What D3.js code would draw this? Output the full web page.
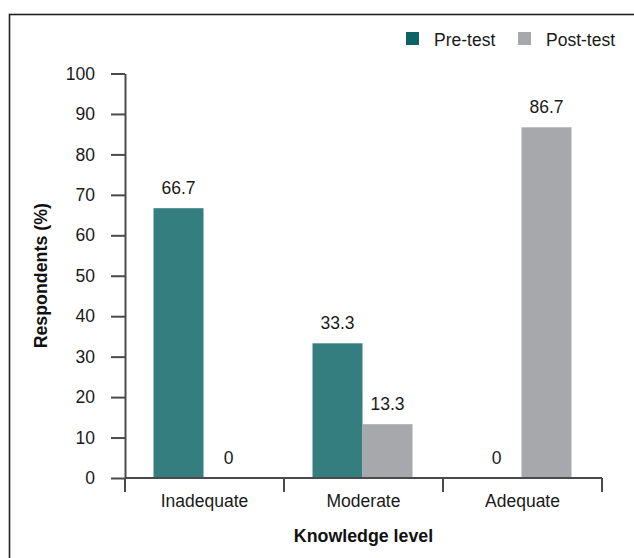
<!DOCTYPE html>
<html>
<head>
<meta charset="utf-8">
<script src="https://cdn.jsdelivr.net/npm/d3@7"></script>
<style>
  html, body { margin: 0; padding: 0; background: #fff; }
  svg { display: block; font-family: "Liberation Sans", Arial, sans-serif; }
</style>
</head>
<body>
<svg id="chart" width="634" height="558"></svg>
<script>
// Knowledge level of respondents before and after the intervention
const categories = ["Inadequate", "Moderate", "Adequate"];
const seriesNames = ["Pre-test", "Post-test"];
const preTest = [66.7, 33.3, 0];
const postTest = [0, 13.3, 86.7];
const yTicks = [0, 10, 20, 30, 40, 50, 60, 70, 80, 90, 100];

const barColors = ["#357e80", "#a7a8ac"];
const legendColors = ["#0d6266", "#a7a8ac"];
const axisColor = "#4a4a4a";
const fontSize = 17.5;
const titleSize = 17.8;

const svg = d3.select("#chart");

// outer frame (only the top and left edges fall inside the view)
svg.append("rect")
  .attr("x", 9.5).attr("y", 14.5)
  .attr("width", 700).attr("height", 700)
  .attr("fill", "none").attr("stroke", "#222").attr("stroke-width", 1.6);

const plotLeft = 125, plotRight = 602, plotTop = 73.5, plotBottom = 478;

const x0 = d3.scaleBand().domain(categories).range([plotLeft, plotRight]).padding(0);
const x1 = d3.scaleBand().domain(seriesNames)
  .range([x0.bandwidth() / 2 - 51, x0.bandwidth() / 2 + 49]).padding(0);
const y = d3.scaleLinear().domain([0, 100]).range([plotBottom, plotTop]);

const rows = categories.map((c, i) => ({
  category: c,
  values: [
    { series: seriesNames[0], value: preTest[i], color: barColors[0] },
    { series: seriesNames[1], value: postTest[i], color: barColors[1] }
  ]
}));

// bars
const groups = svg.append("g").selectAll("g")
  .data(rows).join("g")
  .attr("transform", d => `translate(${x0(d.category)},0)`);

groups.selectAll("rect")
  .data(d => d.values).join("rect")
  .attr("x", d => x1(d.series))
  .attr("y", d => y(d.value))
  .attr("width", x1.bandwidth())
  .attr("height", d => y(0) - y(d.value))
  .attr("fill", d => d.color);

// value labels
groups.selectAll("text")
  .data(d => d.values).join("text")
  .attr("x", d => x1(d.series) + x1.bandwidth() / 2)
  .attr("y", d => y(d.value) - 14)
  .attr("text-anchor", "middle")
  .attr("font-size", fontSize)
  .attr("fill", "#1a1a1a")
  .text(d => d.value);

// y axis
const yAxis = d3.axisLeft(y).tickValues(yTicks).tickSize(14).tickPadding(16).tickSizeOuter(0);
const gy = svg.append("g").attr("transform", `translate(${plotLeft},0)`).call(yAxis);
gy.select(".domain").attr("stroke", axisColor).attr("stroke-width", 2);
gy.selectAll(".tick line").attr("stroke", axisColor).attr("stroke-width", 2);
gy.selectAll(".tick text").attr("font-size", fontSize).attr("fill", "#1a1a1a")
  .attr("font-family", "Liberation Sans, Arial, sans-serif");

// x axis: ticks sit on category boundaries
const gx = svg.append("g");
gx.append("line")
  .attr("x1", plotLeft).attr("x2", plotRight)
  .attr("y1", plotBottom).attr("y2", plotBottom)
  .attr("stroke", axisColor).attr("stroke-width", 2);
const boundaries = categories.map(c => x0(c)).concat([x0(categories[categories.length - 1]) + x0.bandwidth()]);
gx.selectAll("line.tk").data(boundaries).join("line")
  .attr("class", "tk")
  .attr("x1", d => d).attr("x2", d => d)
  .attr("y1", plotBottom).attr("y2", plotBottom + 14)
  .attr("stroke", axisColor).attr("stroke-width", 2);
gx.selectAll("text").data(categories).join("text")
  .attr("x", d => x0(d) + x0.bandwidth() / 2)
  .attr("y", 507)
  .attr("text-anchor", "middle")
  .attr("font-size", fontSize)
  .attr("fill", "#1a1a1a")
  .text(d => d);

// axis titles
svg.append("text")
  .attr("x", (plotLeft + plotRight) / 2).attr("y", 542)
  .attr("text-anchor", "middle")
  .attr("font-size", titleSize).attr("font-weight", "bold").attr("fill", "#111")
  .text("Knowledge level");

svg.append("text")
  .attr("transform", `translate(46.5,${(plotTop + plotBottom) / 2}) rotate(-90)`)
  .attr("text-anchor", "middle")
  .attr("font-size", titleSize).attr("font-weight", "bold").attr("fill", "#111")
  .text("Respondents (%)");

// legend
const legendX = [406, 518];
const legend = svg.append("g").selectAll("g")
  .data(seriesNames).join("g")
  .attr("transform", (d, i) => `translate(${legendX[i]},32)`);
legend.append("rect")
  .attr("width", 13).attr("height", 13)
  .attr("fill", (d, i) => legendColors[i]);
legend.append("text")
  .attr("x", 28).attr("y", 13.5)
  .attr("font-size", fontSize).attr("fill", "#1a1a1a")
  .text(d => d);
</script>
</body>
</html>
